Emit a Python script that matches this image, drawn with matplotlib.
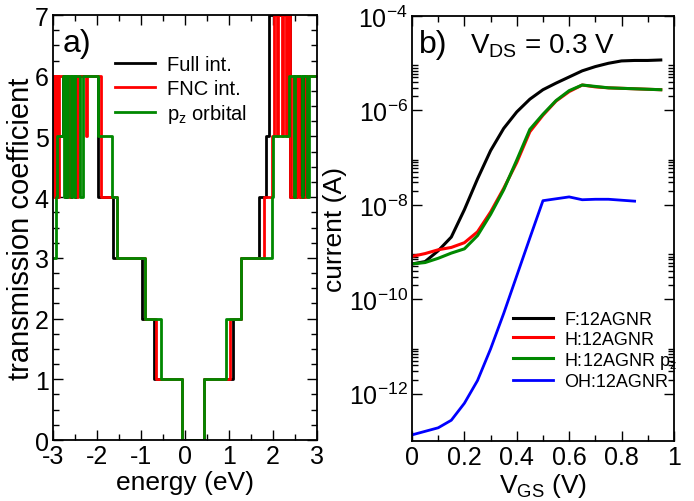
import numpy as np
import matplotlib
matplotlib.use("Agg")
import matplotlib.pyplot as plt
from matplotlib.ticker import MultipleLocator, FixedLocator, NullFormatter

plt.rcParams['font.family'] = ['Liberation Sans', 'DejaVu Sans']
plt.rcParams['mathtext.default'] = 'regular'
plt.rcParams['axes.unicode_minus'] = False

# ---- panel a): transmission steps (start energy, level) ----
full_E = [-3.00, -2.78, -2.72, -2.69, -2.62, -2.58, -2.50, -2.47, -1.97, -1.63,
          -0.98, -0.70, -0.08, 0.44, 1.085, 1.27, 1.685, 1.84, 1.91, 2.39,
          2.55, 2.62, 2.70, 3.00]
full_T = [5, 6, 4, 6, 4, 6, 4, 6, 4, 3,
          2, 1, 0, 1, 2, 3, 4, 5, 7, 4,
          6, 4, 6, 6]

fnc_E = [-3.00, -2.98, -2.96, -2.93, -2.91, -2.88, -2.86, -2.64, -2.62, -2.45,
         -2.43, -2.25, -2.22, -1.90, -1.55, -0.90, -0.65, -0.08, 0.44, 1.02,
         1.27, 1.80, 1.98, 2.03, 2.08, 2.11, 2.20, 2.23, 2.30, 2.33,
         2.38, 2.45, 2.50, 2.55, 2.58, 2.75, 3.00]
fnc_T = [6, 4, 6, 4, 6, 4, 6, 4, 6, 4,
         6, 5, 6, 4, 3, 2, 1, 0, 1, 2,
         3, 4, 5, 7, 5, 7, 5, 7, 5, 7,
         4, 6, 4, 6, 4, 6, 6]

pz_E = [-3.00, -2.93, -2.90, -2.78, -2.75, -2.72, -2.68, -2.65, -2.60, -2.56,
        -2.52, -2.49, -2.38, -2.33, -1.97, -1.656, -1.55, -0.90, -0.555, -0.08,
        0.44, 0.926, 1.27, 1.97, 2.01, 2.36, 2.48, 2.50, 2.66, 2.69,
        2.78, 2.81, 3.00]
pz_T = [3, 4, 5, 6, 4, 6, 4, 6, 4, 6,
        4, 6, 4, 6, 5, 4, 3, 2, 1, 0,
        1, 2, 3, 4, 5, 6, 4, 6, 4, 6,
        4, 6, 6]

# ---- panel b): current vs gate voltage ----
vgs = [0.0, 0.05, 0.1, 0.15, 0.2, 0.25, 0.3, 0.35, 0.4, 0.45,
       0.5, 0.55, 0.6, 0.65, 0.7, 0.75, 0.8, 0.85, 0.9, 0.95]
log_F = [-9.25, -9.2, -8.97, -8.68, -8.1, -7.45, -6.85, -6.38, -6.03, -5.76,
         -5.56, -5.42, -5.29, -5.16, -5.07, -5.0, -4.95, -4.94, -4.94, -4.93]
log_H = [-9.09, -9.03, -8.95, -8.9, -8.8, -8.57, -8.15, -7.65, -7.1, -6.45,
         -6.1, -5.8, -5.6, -5.46, -5.5, -5.52, -5.53, -5.54, -5.55, -5.56]
log_Hpz = [-9.25, -9.22, -9.13, -9.02, -8.93, -8.65, -8.2, -7.68, -7.05, -6.4,
           -6.08, -5.79, -5.58, -5.46, -5.49, -5.52, -5.53, -5.54, -5.55, -5.56]
vgs_OH = [0.0, 0.1, 0.15, 0.2, 0.25, 0.3, 0.35, 0.4, 0.45, 0.5,
          0.55, 0.6, 0.65, 0.7, 0.75, 0.8, 0.85]
log_OH = [-12.87, -12.72, -12.56, -12.2, -11.72, -11.05, -10.3, -9.5, -8.7, -7.91,
          -7.87, -7.83, -7.89, -7.88, -7.88, -7.9, -7.92]

vgs_ticks = [0, 0.2, 0.4, 0.6, 0.8, 1.0]
vgs_labels = ["0", "0.2", "0.4", "0.6", "0.8", "1"]
cur_ticks = [1e-12, 1e-10, 1e-8, 1e-6, 1e-4]
cur_labels = ["10$^{-12}$", "10$^{-10}$", "10$^{-8}$", "10$^{-6}$", "10$^{-4}$"]

green = "#008800"
fs = 18

fig = plt.figure(figsize=(6.94, 5.02), dpi=100)
ax1 = fig.add_axes([0.0764, 0.1215, 0.3804, 0.8465])
ax2 = fig.add_axes([0.5937, 0.1195, 0.3773, 0.8465])

ax1.step(full_E, full_T, where="post", color="black", lw=2, label="Full int.")
ax1.step(fnc_E, fnc_T, where="post", color="red", lw=2, label="FNC int.")
ax1.step(pz_E, pz_T, where="post", color=green, lw=2, label="p$_z$ orbital")
ax1.set_xlim(-3, 3)
ax1.set_ylim(0, 7)
ax1.xaxis.set_major_locator(MultipleLocator(1))
ax1.xaxis.set_minor_locator(MultipleLocator(0.5))
ax1.yaxis.set_major_locator(MultipleLocator(1))
ax1.yaxis.set_minor_locator(MultipleLocator(0.25))
ax1.set_xlabel("energy (eV)", fontsize=19, labelpad=1)
ax1.set_ylabel("transmission coefficient", fontsize=21, labelpad=0)
ax1.text(0.035, 0.915, "a)", transform=ax1.transAxes, fontsize=23)
ax1.legend(loc="upper left", bbox_to_anchor=(0.235, 0.905), frameon=False,
           fontsize=14.5, handlelength=2.0, handletextpad=0.6, labelspacing=0.22,
           borderaxespad=0, borderpad=0)

ax2.plot(vgs, 10.0 ** np.array(log_F), color="black", lw=2.2, label="F:12AGNR")
ax2.plot(vgs, 10.0 ** np.array(log_H), color="red", lw=2.2, label="H:12AGNR")
ax2.plot(vgs, 10.0 ** np.array(log_Hpz), color=green, lw=2.2, label="H:12AGNR p$_z$")
ax2.plot(vgs_OH, 10.0 ** np.array(log_OH), color="blue", lw=2, label="OH:12AGNR")
ax2.set_yscale("log")
ax2.set_xlim(0, 1)
ax2.set_ylim(1e-13, 1e-4)
ax2.xaxis.set_major_locator(FixedLocator(vgs_ticks))
ax2.xaxis.set_minor_locator(MultipleLocator(0.1))
ax2.set_xticklabels(vgs_labels)
ax2.yaxis.set_major_locator(FixedLocator(cur_ticks))
ax2.yaxis.set_minor_locator(FixedLocator([k * 10.0 ** n for n in (-12, -10, -8, -6)
                                          for k in range(2, 10)]))
ax2.yaxis.set_minor_formatter(NullFormatter())
ax2.set_yticklabels(cur_labels)
ax2.set_xlabel("V$_{GS}$ (V)", fontsize=19, labelpad=1)
ax2.set_ylabel("current (A)", fontsize=19, labelpad=1)
ax2.text(0.025, 0.915, "b)", transform=ax2.transAxes, fontsize=23)
ax2.text(0.22, 0.915, "V$_{DS}$ = 0.3 V", transform=ax2.transAxes, fontsize=20)
ax2.legend(loc="upper left", bbox_to_anchor=(0.385, 0.305), frameon=False,
           fontsize=13, handlelength=2.2, handletextpad=0.65, labelspacing=0.12,
           borderaxespad=0, borderpad=0)

for ax in (ax1, ax2):
    ax.tick_params(which="both", direction="in", top=True, right=True,
                   labelsize=fs, width=1)
    ax.tick_params(which="major", length=7, pad=3)
    ax.tick_params(which="minor", length=4)
    for s in ax.spines.values():
        s.set_linewidth(1.3)

fig.savefig("out.png", dpi=100)
